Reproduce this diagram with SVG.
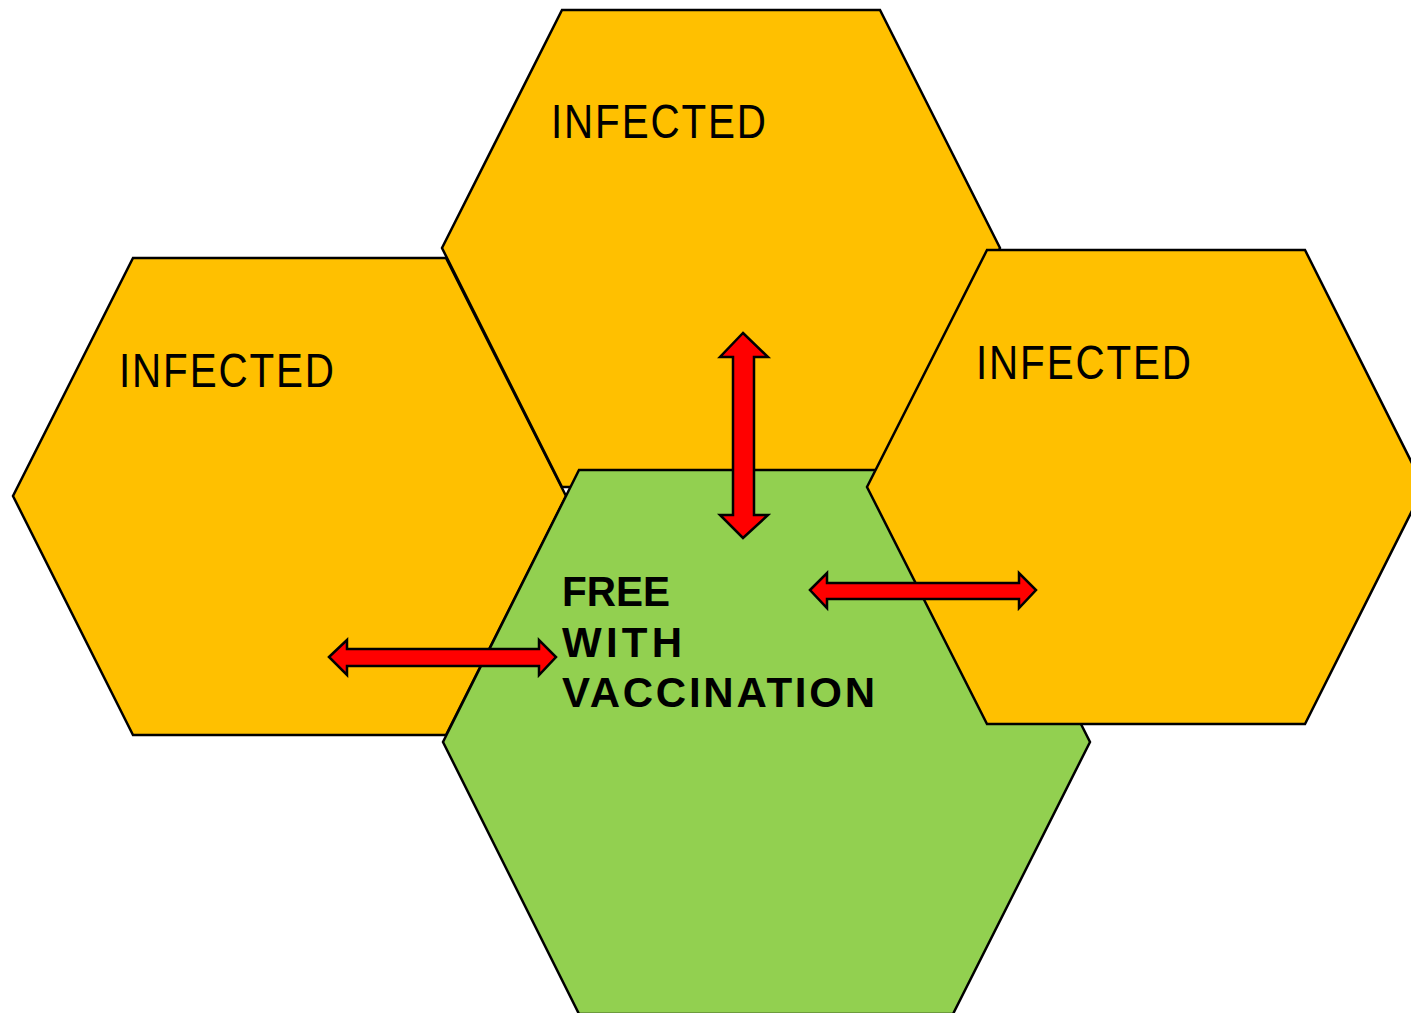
<svg xmlns="http://www.w3.org/2000/svg" width="1411" height="1013" viewBox="0 0 1411 1013">
<style>
.hex{stroke:#000;stroke-width:2.5;stroke-linejoin:miter}
.inf{fill:#FFC000}
.free{fill:#92D050}
.arrow{fill:#FF0000;stroke:#000;stroke-width:2.5;stroke-linejoin:miter}
.t1{font-family:"Liberation Sans",Arial,sans-serif;font-size:47.5px;fill:#000;letter-spacing:2.2px}
.t2{font-family:"Liberation Sans",Arial,sans-serif;font-size:42px;font-weight:bold;fill:#000}
</style>
<rect width="1411" height="1013" fill="#fff"/>
<g id="hex-left">
<polygon class="hex inf" points="133,258 446,258 566,496 446,735 133,735 13,496"/>
<text class="t1" transform="translate(119,387) scale(0.85,1)">INFECTED</text>
</g>
<g id="hex-top">
<polygon class="hex inf" points="562,10 880,10 1000,248 880,487 562,487 442,248"/>
<text class="t1" transform="translate(551,138) scale(0.85,1)">INFECTED</text>
</g>
<g id="hex-center">
<polygon class="hex free" points="579,470 953,470 1090,742 953,1014 579,1014 443,742"/>
<text class="t2" x="562" y="606" textLength="108" lengthAdjust="spacingAndGlyphs">FREE</text>
<text class="t2" x="562" y="657" textLength="120" lengthAdjust="spacing">WITH</text>
<text class="t2" x="562" y="707" textLength="313" lengthAdjust="spacing">VACCINATION</text>
</g>
<g id="hex-right">
<polygon class="hex inf" points="987,250 1305,250 1424,487 1305,724 987,724 867,487"/>
<text class="t1" transform="translate(976,379) scale(0.85,1)">INFECTED</text>
</g>
<g id="connectors">
<polygon class="arrow" points="743,333 768,357 754,357 754,515 768,515 743,538 720,515 733,515 733,357 720,357"/>
<polygon class="arrow" points="329,657 347,640 347,649 539,649 539,640 556,657 539,675 539,666 347,666 347,675"/>
<polygon class="arrow" points="810,590 827,573 827,583 1019,583 1019,573 1036,590 1019,608 1019,599 827,599 827,608"/>
</g>
</svg>
